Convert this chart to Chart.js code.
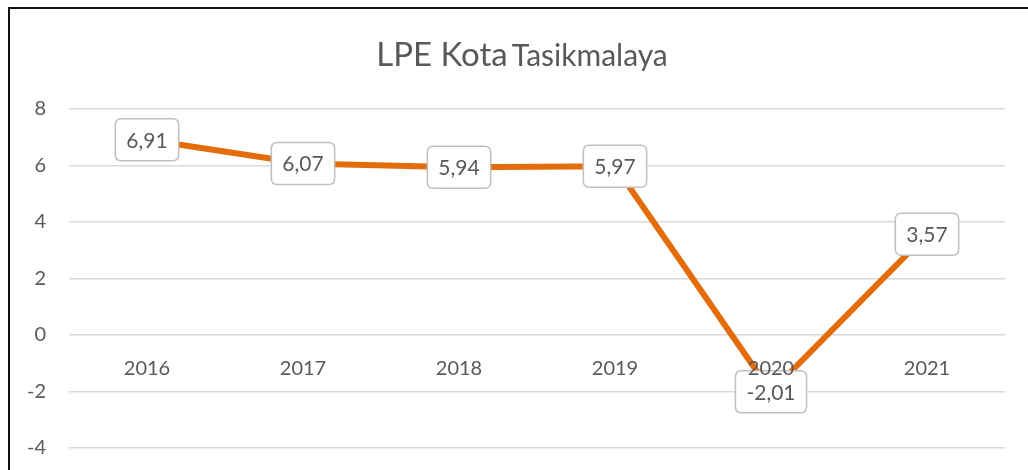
<!DOCTYPE html>
<html>
<head>
<meta charset="utf-8">
<script src="https://cdn.jsdelivr.net/npm/chart.js@4/dist/chart.umd.min.js"></script>
<style>
  html, body { margin: 0; padding: 0; background: #fff; overflow: hidden; }
  #wrap { position: relative; width: 1028px; height: 470px; }
  #frame { position: absolute; left: 8px; top: 7px; width: 1100px; height: 600px;
           border-top: 2px solid #111; border-left: 2px solid #111; box-sizing: border-box; }
  #title { position: absolute; left: 0; top: 33px; width: 1044px; text-align: center;
           font-family: Lato, sans-serif; color: #595959; white-space: nowrap; line-height: 40px; }
  #title .big { font-size: 33px; }
  #title .small { font-size: 30px; }
  canvas { position: absolute; left: 0; top: 0; }
</style>
</head>
<body>
<div id="wrap">
  <div id="frame"></div>
  <canvas id="c" width="1028" height="470"></canvas>
  <div id="title"><span class="big">LPE Kota</span> <span class="small">Tasikmalaya</span></div>
</div>
<script>
const categories = ['2016', '2017', '2018', '2019', '2020', '2021'];
const lpeValues = [6.91, 6.07, 5.94, 5.97, -2.01, 3.57];
const yMin = -4;
const yMax = 8;
const yStep = 2;

const FONT = 'Lato, sans-serif';
const TEXT = '#595959';

function fmt(v) { return v.toFixed(2).replace('.', ','); }

function roundRect(ctx, x, y, w, h, r) {
  ctx.beginPath();
  ctx.moveTo(x + r, y);
  ctx.lineTo(x + w - r, y);
  ctx.quadraticCurveTo(x + w, y, x + w, y + r);
  ctx.lineTo(x + w, y + h - r);
  ctx.quadraticCurveTo(x + w, y + h, x + w - r, y + h);
  ctx.lineTo(x + r, y + h);
  ctx.quadraticCurveTo(x, y + h, x, y + h - r);
  ctx.lineTo(x, y + r);
  ctx.quadraticCurveTo(x, y, x + r, y);
  ctx.closePath();
}

const labelsPlugin = {
  id: 'labelsPlugin',
  afterDatasetsDraw(chart) {
    const ctx = chart.ctx;
    const xs = chart.scales.x, ys = chart.scales.y;
    const zeroY = ys.getPixelForValue(0);
    // data labels
    const meta = chart.getDatasetMeta(0);
    ctx.save();
    ctx.font = '21px ' + FONT;
    meta.data.forEach((pt, i) => {
      const t = fmt(lpeValues[i]);
      const w = ctx.measureText(t).width + 22;
      const h = 42;
      roundRect(ctx, pt.x - w / 2, pt.y - h / 2, w, h, 6);
      ctx.fillStyle = '#fff';
      ctx.fill();
      ctx.lineWidth = 1.5;
      ctx.strokeStyle = '#bfbfbf';
      ctx.stroke();
      ctx.fillStyle = TEXT;
      ctx.textAlign = 'center';
      ctx.textBaseline = 'middle';
      ctx.fillText(t, pt.x, pt.y + 1);
    });
    ctx.restore();
    // category labels placed by the zero line
    ctx.save();
    ctx.font = '20px ' + FONT;
    ctx.fillStyle = TEXT;
    ctx.textAlign = 'center';
    ctx.textBaseline = 'middle';
    categories.forEach((c, i) => {
      ctx.fillText(c, xs.getPixelForValue(i), zeroY + 34);
    });
    ctx.restore();
  }
};

new Chart(document.getElementById('c'), {
  type: 'line',
  data: {
    labels: categories,
    datasets: [{
      data: lpeValues,
      borderColor: '#E46C0A',
      borderWidth: 6,
      pointRadius: 0,
      tension: 0,
      fill: false
    }]
  },
  options: {
    responsive: false,
    animation: false,
    layout: { padding: { left: 0, top: 109, right: 23, bottom: 22 } },
    plugins: { legend: { display: false }, tooltip: { enabled: false }, title: { display: false } },
    scales: {
      x: { type: 'category', offset: true, display: false },
      y: {
        min: yMin, max: yMax,
        border: { display: false },
        grid: { color: '#d9d9d9', lineWidth: 1.5, drawTicks: false },
        ticks: { stepSize: yStep, padding: 23, color: TEXT, font: { family: FONT, size: 20 } },
        afterFit(scale) { scale.width = 69; scale.paddingTop = 0; scale.paddingBottom = 0; }
      }
    }
  },
  plugins: [labelsPlugin]
});
</script>
</body>
</html>
